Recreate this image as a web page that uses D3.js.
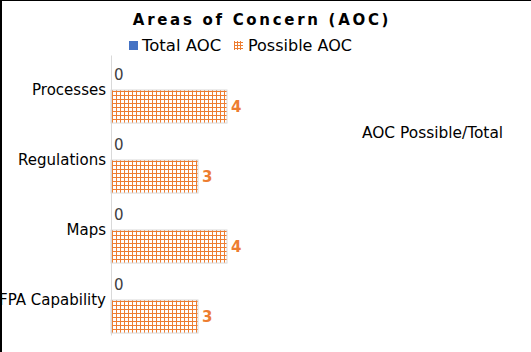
<!DOCTYPE html>
<html>
<head>
<meta charset="utf-8">
<script src="https://cdn.jsdelivr.net/npm/d3@7"></script>
<style>
  body { margin: 0; background: #fff; }
  svg { display: block; font-family: "DejaVu Sans", sans-serif; }
</style>
</head>
<body>
<svg id="chart"></svg>
<script>
const categories = ["Processes", "Regulations", "Maps", "FPA Capability"];
const seriesNames = ["Total AOC", "Possible AOC"];
const totalAOC = [0, 0, 0, 0];
const possibleAOC = [4, 3, 4, 3];
const colors = { total: "#4472C4", possible: "#ED7D31" };

const width = 531, height = 352;
const plot = { left: 111, top: 55, bottom: 335 };

const svg = d3.select("#chart")
    .attr("width", width)
    .attr("height", height);

// orange grid fill for the "Possible" series
const defs = svg.append("defs");
function gridPattern(id, step) {
    const pat = defs.append("pattern")
        .attr("id", id)
        .attr("patternUnits", "userSpaceOnUse")
        .attr("width", step).attr("height", step);
    pat.append("rect").attr("width", step).attr("height", step).attr("fill", "#fff");
    pat.append("rect").attr("width", step).attr("height", 1)
        .attr("fill", colors.possible).attr("shape-rendering", "crispEdges");
    pat.append("rect").attr("width", 1).attr("height", step)
        .attr("fill", colors.possible).attr("shape-rendering", "crispEdges");
}
gridPattern("grid", 4);
gridPattern("gridSmall", 3);

// frame edges
svg.append("line").attr("x1", 1).attr("x2", 1).attr("y1", 0).attr("y2", height)
    .attr("stroke", "#000").attr("stroke-width", 2);
svg.append("line").attr("x1", 0).attr("x2", width).attr("y1", 0.5).attr("y2", 0.5)
    .attr("stroke", "#000").attr("stroke-width", 1);

const y = d3.scaleBand()
    .domain(categories)
    .range([plot.top, plot.bottom])
    .paddingInner(0)
    .paddingOuter(0);

const ySub = d3.scaleBand()
    .domain(seriesNames)
    .range([0, y.bandwidth()])
    .paddingOuter(0.06)
    .paddingInner(0);

const x = d3.scaleLinear()
    .domain([0, 1])
    .range([plot.left, plot.left + 29]);

// title
svg.append("text")
    .attr("x", 262).attr("y", 25)
    .attr("text-anchor", "middle")
    .style("font-size", "15px")
    .style("font-weight", "bold")
    .style("letter-spacing", "2.7px")
    .text("Areas of Concern (AOC)");

// legend
const legend = svg.append("g").attr("transform", "translate(129,45)");
legend.append("rect").attr("x", 0).attr("y", -4).attr("width", 9).attr("height", 9)
    .attr("fill", colors.total).attr("shape-rendering", "crispEdges");
legend.append("text").attr("x", 13).attr("y", 6)
    .style("font-size", "16.5px").attr("fill", "#000").text(seriesNames[0]);
legend.append("rect").attr("x", 105).attr("y", -4).attr("width", 9).attr("height", 9)
    .attr("fill", "url(#gridSmall)").attr("shape-rendering", "crispEdges");
legend.append("text").attr("x", 119).attr("y", 6)
    .style("font-size", "16px").attr("fill", "#000").text(seriesNames[1]);

// bars
const groups = svg.append("g").selectAll("g")
    .data(categories)
    .enter().append("g")
    .attr("transform", d => `translate(0,${y(d)})`);

groups.append("rect")
    .attr("x", x(0))
    .attr("y", ySub("Total AOC"))
    .attr("width", (d, i) => x(totalAOC[i]) - x(0))
    .attr("height", ySub.bandwidth())
    .attr("fill", colors.total);

groups.append("rect")
    .attr("x", x(0))
    .attr("y", ySub("Possible AOC"))
    .attr("width", (d, i) => x(possibleAOC[i]) - x(0))
    .attr("height", ySub.bandwidth())
    .attr("fill", "url(#grid)")
    .attr("stroke", "#d9d9d9")
    .attr("stroke-width", 1);

groups.append("text")
    .attr("x", (d, i) => x(totalAOC[i]) + 3)
    .attr("y", ySub("Total AOC") + ySub.bandwidth() / 2 + 7)
    .style("font-size", "15px")
    .attr("fill", "#404040")
    .text((d, i) => totalAOC[i]);

groups.append("text")
    .attr("x", (d, i) => x(possibleAOC[i]) + 4)
    .attr("y", ySub("Possible AOC") + ySub.bandwidth() / 2 + 5)
    .style("font-size", "15px")
    .style("font-weight", "bold")
    .attr("fill", colors.possible)
    .text((d, i) => possibleAOC[i]);

// category axis
const axis = svg.append("g")
    .attr("transform", `translate(${plot.left},0)`)
    .call(d3.axisLeft(y).tickSize(0).tickPadding(5));
axis.select(".domain").attr("stroke", "#d9d9d9");
axis.selectAll("text")
    .style("font-size", "15px")
    .style("font-family", "DejaVu Sans, sans-serif")
    .attr("fill", "#000");

// secondary axis title
svg.append("text")
    .attr("x", 362).attr("y", 138)
    .style("font-size", "15.4px")
    .attr("fill", "#000")
    .text("AOC Possible/Total");
</script>
</body>
</html>
